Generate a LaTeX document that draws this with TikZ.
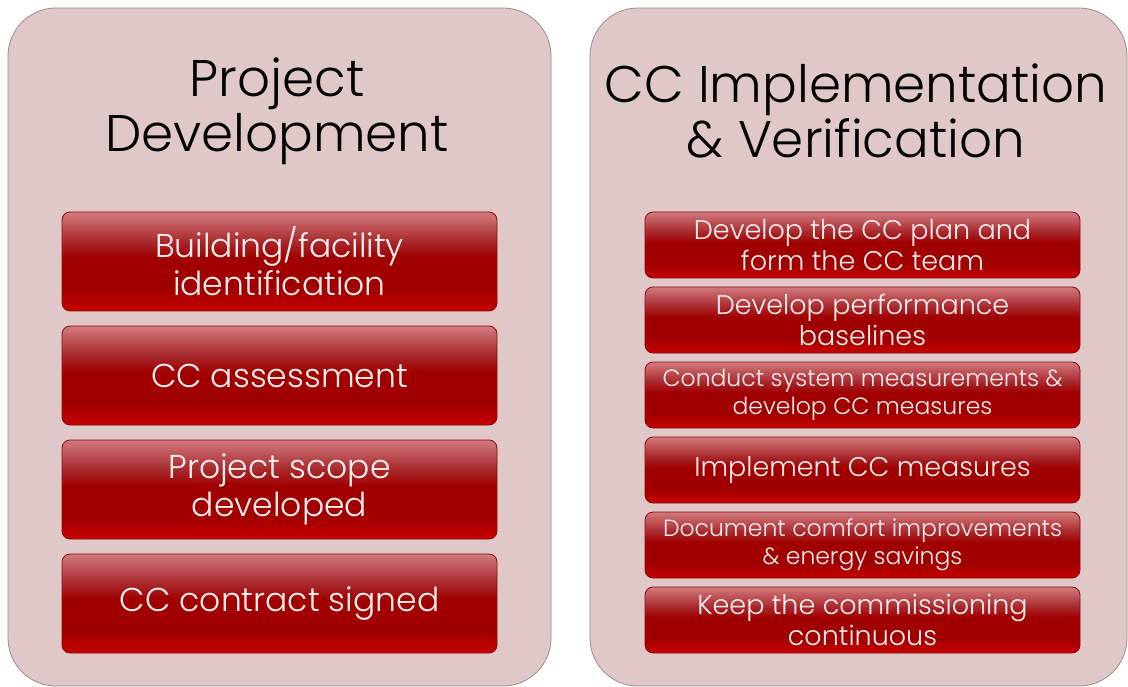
\documentclass[tikz,border=0pt]{standalone}
\usepackage{fontspec}
\setmainfont{Poppins Light}
\usetikzlibrary{positioning}
\definecolor{panelfill}{HTML}{E0C8C9}
\definecolor{panelline}{HTML}{9A8C8C}
\definecolor{boxtop}{HTML}{D27A7E}
\definecolor{boxmid}{HTML}{A8282C}
\definecolor{boxdark}{HTML}{A00000}
\definecolor{boxbot}{HTML}{C80000}
\definecolor{boxline}{HTML}{8A0A0A}
\definecolor{boxtext}{HTML}{FAF0F0}
\pgfdeclareverticalshading{redbox}{100bp}{color(0bp)=(boxbot); color(25bp)=(boxbot);
  color(36bp)=(boxdark); color(52bp)=(boxdark); color(60bp)=(boxmid);
  color(75bp)=(boxtop); color(100bp)=(boxtop)}
\begin{document}
\begin{tikzpicture}[x=1pt,y=-1pt,
    panel/.style={draw=panelline,fill=panelfill,rounded corners=48pt,line width=0.8pt},
    stepbox/.style={draw=boxline,shading=redbox,rounded corners=8pt,line width=0.8pt,
      text=boxtext,align=center,inner sep=2pt,outer sep=0pt,minimum width=435pt},
    bigstep/.style={stepbox,minimum height=99pt,font=\fontsize{33}{38}\selectfont},
    smallstep/.style={stepbox,minimum height=66pt,font=\fontsize{27}{31}\selectfont},
    longtext/.style={font=\fontsize{23.5}{28}\selectfont},
    heading/.style={align=center,inner sep=0pt,font=\fontsize{51.5}{55}\selectfont}]
    \useasboundingbox (0,0) rectangle (1128,687); % pagina
    \node[panel,minimum width=543pt,minimum height=678pt] (devpanel) at (279.5,347) {}; % pannello sinistro
    \node[panel,minimum width=537pt,minimum height=678pt] (ccpanel) at (858.5,347) {}; % pannello destro
    \node[heading] (devtitle) at (277,111) {Project\\Development}; % titolo sinistro
    \node[heading] (cctitle) at (856,111) {CC Implementation\\\& Verification}; % titolo destro
    \node[bigstep] (ident) at (279.5,261.5) {Building/facility\\identification}; % passo 1
    \node[bigstep,below=15pt of ident] (assess) {CC assessment}; % passo 2
    \node[bigstep,below=15pt of assess] (scope) {Project scope\\developed}; % passo 3
    \node[bigstep,below=15pt of scope] (contract) {CC contract signed}; % passo 4
    \node[smallstep] (plan) at (862.5,245) {Develop the CC plan and\\form the CC team}; % fase 1
    \node[smallstep,below=9pt of plan] (base) {Develop performance\\baselines}; % fase 2
    \node[smallstep,longtext,below=9pt of base] (meas) {Conduct system measurements \&\\develop CC measures}; % fase 3
    \node[smallstep,below=9pt of meas] (impl) {Implement CC measures}; % fase 4
    \node[smallstep,longtext,below=9pt of impl] (doc) {Document comfort improvements\\\& energy savings}; % fase 5
    \node[smallstep,below=9pt of doc] (keep) {Keep the commissioning\\continuous}; % fase 6
  \end{tikzpicture}
\end{document}
